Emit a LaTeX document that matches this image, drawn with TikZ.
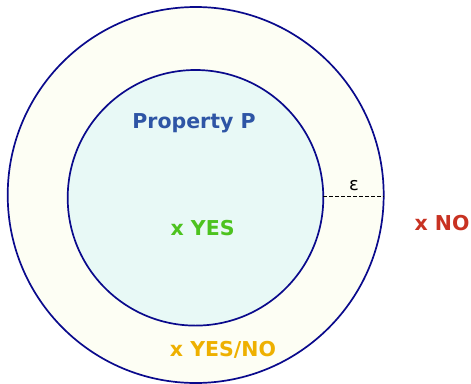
\documentclass[tikz,border=0pt]{standalone}
\usepackage{fontspec}
\setmainfont{DejaVu Sans}
\definecolor{ringblue}{HTML}{0A0A8C}
\definecolor{outerfill}{HTML}{FDFEF4}
\definecolor{innerfill}{HTML}{E8F9F6}
\definecolor{propblue}{HTML}{2E55A5}
\definecolor{yesgreen}{HTML}{4DC31F}
\definecolor{nored}{HTML}{C83222}
\definecolor{maybeorange}{HTML}{EEB000}
\tikzset{
  ring/.style={draw=ringblue, line width=1.7pt},
  answer/.style={font=\bfseries\fontsize{20.5}{24}\selectfont, inner sep=0pt, anchor=base}
}
\begin{document}
\begin{tikzpicture}[x=1pt,y=-1pt]
  \useasboundingbox (0,0) rectangle (471,383);
  % the two regions
  \draw[ring, fill=outerfill] (195.7,195) circle[radius=188pt];
  \draw[ring, fill=innerfill] (195.5,197.8) circle[radius=127.8pt];
  % width of the band
  \coordinate (innerR) at (323.3,196.7);
  \coordinate (outerR) at (383.7,196.7);
  \draw[dash pattern=on 4pt off 2pt, line width=1.5pt] (innerR) -- (outerR);
  \node[inner sep=0pt, anchor=base, font=\fontsize{18}{21}\selectfont] (eps) at (354,190) {ε};
  % labels
  \node[answer, propblue] (prop) at (194,128.3) {Property P};
  \node[answer, yesgreen] (yes) at (202.6,235) {x YES};
  \node[answer, maybeorange] (maybe) at (223,356) {x YES/NO};
  \node[answer, nored] (no) at (442,230.7) {x NO};
\end{tikzpicture}
\end{document}
